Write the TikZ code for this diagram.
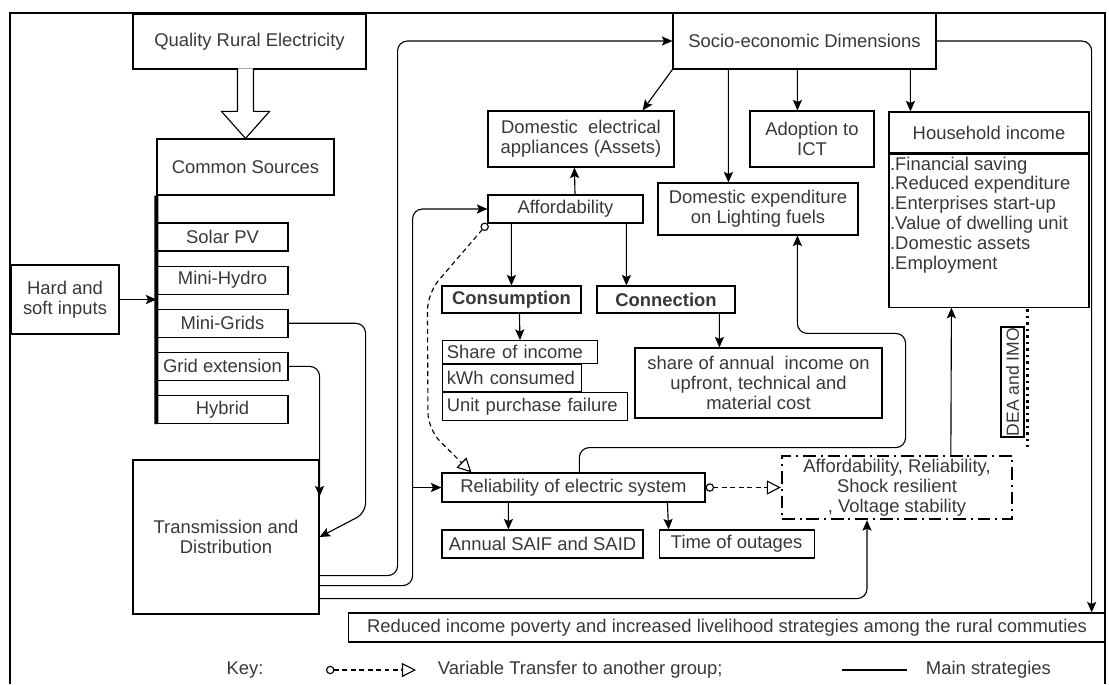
\documentclass[tikz,border=0pt]{standalone}
\usepackage{fontspec}
\setmainfont{Liberation Sans}
\usepackage{graphicx}
\usepackage{tikz}
\usetikzlibrary{arrows.meta,positioning,calc}
\newcommand\figfont{\fontsize{13.1pt}{14.2pt}\selectfont}

\begin{document}
\begin{tikzpicture}[
  x=0.025cm, y=-0.025cm,
  font=\figfont, text=black!78,
  box/.style={draw, line width=0.8pt, inner sep=1pt, align=center},
  src/.style={box, minimum width=3.275cm, minimum height=0.7cm},
  lst/.style={draw, line width=0.8pt, anchor=north west, align=left, inner xsep=3pt, inner ysep=1pt},
  qual/.style={draw, line width=1.6pt, dash pattern=on 9pt off 3.5pt on 1.4pt off 3.5pt, align=center, inner sep=1pt},
  arr/.style={-{Stealth[length=7.5pt, width=6.5pt, inset=1.5pt]}, line width=0.8pt},
  link/.style={arr, rounded corners=7pt},
  vt/.style={{Circle[open, length=6pt, width=6pt]}-{Triangle[open, length=10pt, width=10pt]}, dash pattern=on 3.5pt off 2.5pt, line width=0.8pt}]
  \useasboundingbox (0,0) rectangle (1109,684);
  \draw[line width=1.5pt] (10,684) |- (1105,13) -- (1105,684);

  \node[box, minimum width=5.825cm, minimum height=1.375cm] (qre) at (249.5,41.5) {Quality Rural Electricity};
  \node[box, minimum width=4.425cm, minimum height=1.4cm] (common) at (245.5,167) {Common Sources};
  \node[src] (solar) at (222.5,237) {Solar PV};
  \node[src, below=0.35cm of solar] (hydro) {Mini-Hydro};
  \node[src, below=0.35cm of hydro] (grids) {Mini-Grids};
  \node[src, below=0.35cm of grids] (gridext) {Grid extension};
  \node[src, below=0.35cm of gridext] (hybrid) {Hybrid};
  \node[box, minimum width=2.7cm, minimum height=1.725cm] (inputs) at (65,299.5) {Hard and\\soft inputs};
  \node[box, minimum width=4.65cm, minimum height=3.85cm] (trans) at (226,537) {Transmission and\\Distribution};

  \node[box, minimum width=6.575cm, minimum height=1.4cm] (socio) at (804.5,41) {Socio-economic Dimensions};
  \node[box, minimum width=4.65cm, minimum height=1.4cm] (appl) at (581,139) {Domestic~~electrical\\appliances (Assets)};
  \node[box, minimum width=3.1cm, minimum height=1.4cm] (ict) at (812,139) {Adoption to\\ICT};
  \node[box, minimum width=5cm, minimum height=1.025cm] (house) at (989,132.5) {Household income};
  \node[box, minimum width=5cm, minimum height=3.825cm, below=0pt of house] (housebody) {};
  \node[anchor=north west, align=left, inner xsep=1pt, inner ysep=2pt] (houselist) at (housebody.north west)
    {.Financial saving\\.Reduced expenditure\\.Enterprises start-up\\.Value of dwelling unit\\.Domestic assets\\.Employment};

  \node[box, minimum width=3.875cm, minimum height=0.7cm] (afford) at (565.5,209) {Affordability};
  \node[box, minimum width=5cm, minimum height=1.3cm] (expend) at (758,209) {Domestic expenditure\\on Lighting fuels};
  \node[box, font=\figfont\bfseries, minimum width=3.475cm, minimum height=0.675cm] (consum) at (511.5,299.5) {Consumption};
  \node[box, font=\figfont\bfseries, minimum width=3.45cm, minimum height=0.675cm] (connect) at (666,299.5) {Connection};
  \node[lst, text width=104.25pt, minimum height=0.575cm] (share) at (442,340) {Share of income};
  \node[lst, text width=92.87pt, minimum height=0.675cm, below right=0pt and 0pt of share.south west] (kwh) {\mbox{kWh consumed}};
  \node[lst, text width=125.6pt, minimum height=0.7cm, below right=0pt and 0pt of kwh.south west] (unit) {Unit purchase failure};
  \node[box, minimum width=6.175cm, minimum height=1.75cm] (annual) at (758.5,383) {share of annual~~income on\\upfront, technical and\\material cost};

  \node[box, minimum width=6.575cm, minimum height=0.725cm] (relia) at (573.5,487.5) {Reliability of electric system};
  \node[box, minimum width=5.025cm, minimum height=0.7cm] (saif) at (542.5,544) {Annual SAIF and SAID};
  \node[box, minimum width=3.875cm, minimum height=0.7cm, right=0.375cm of saif] (outage) {Time of outages};
  \node[qual, minimum width=5.75cm, minimum height=1.575cm] (quality) at (897,487.5) {Affordability, Reliability,\\Shock resilient\\, Voltage stability};
  \node[box, font=\fontsize{12.5pt}{14pt}\selectfont, minimum width=0.575cm, minimum height=2.75cm, inner sep=0pt] (dea) at (1012.5,382) {\rotatebox{90}{DEA and IMO}};
  \draw[line width=1.8pt, dash pattern=on 1.8pt off 2.8pt] ($(dea.north east)+(3,-17)$) -- ($(dea.south east)+(3,9)$);
  \node[box, minimum width=18.9cm, minimum height=0.725cm] (poverty) at (727,627.5) {Reduced income poverty and increased livelihood strategies among the rural commuties};

  \node (keyname) at (245,670) {Key:};
  \node[anchor=west] (keyvt) at (433,670) {Variable Transfer to another group;};
  \node[anchor=west] (keymain) at (921,670) {Main strategies};
  \coordinate (vta) at (326,670);
  \coordinate (vtb) at (416,670);
  \coordinate (maina) at (842,670);
  \coordinate (mainb) at (907,670);

  \draw[line width=0.8pt, fill=white] ($(common.north)+(-8,-70)$) -- ++(0,43) -- ++(-16,0) -- (common.north) -- ++(24,-27) -- ++(-16,0) -- ++(0,-43);
  \draw[line width=2.8pt] (common.south west) -- (hybrid.south west);
  \draw[arr] (inputs.east) -- (inputs.east -| common.south west);
  \draw[link] (grids.east) -| ($(trans.east)+(46,-24)$) -- (trans.east);
  \draw[link] (gridext.east) -| ($(trans.north east)+(0,37)$);
  \draw[link] ($(trans.south east)+(0,-39)$) -- ++(78,0) |- (socio.west);
  \draw[link] ($(trans.south east)+(0,-29)$) -- ++(93,0) coordinate (t2r) |- (afford.west);
  \draw[arr] (t2r |- relia.west) -- (relia.west);
  \draw[link] ($(trans.south east)+(0,-16)$) -| ($(quality.south)+(-30,0)$);
  \draw[link] (socio.east) -| ($(poverty.north east)+(-14,0)$);
  \draw[arr] (socio.south west) -- ($(appl.north east)+(-32,0)$);
  \draw[arr] ($(socio.south west)+(56,0)$) -- ($(expend.north west)+(71,0)$);
  \draw[arr] ($(socio.south west)+(125,0)$) -- ($(ict.north west)+(48,0)$);
  \draw[arr] ($(socio.south west)+(238,0)$) -- ($(house.north west)+(22,0)$);
  \draw[arr] ($(afford.north)+(9.5,0)$) -- ($(appl.south west)+(87,0)$);
  \draw[arr] ($(afford.south west)+(24,0)$) -- ($(consum.north west)+(70,0)$);
  \draw[arr] ($(afford.south west)+(139,0)$) -- ($(connect.north west)+(30,0)$);
  \draw[arr] ($(consum.south west)+(78,0)$) -- ($(share.north west)+(78,0)$);
  \draw[arr] ($(connect.south west)+(123,0)$) -- ($(annual.north west)+(85,0)$);
  \draw[arr] ($(relia.south west)+(67,0)$) -- ($(saif.north west)+(67,0)$);
  \draw[arr] ($(relia.south west)+(226,0)$) -- ($(outage.north west)+(10,0)$);
  \draw[link] ($(relia.north west)+(138,0)$) |- ($(annual.south east)+(23,29)$) -- ($(annual.north east)+(23,-14)$) -| ($(expend.south west)+(140,0)$);
  \draw[arr] ($(quality.north west)+(170,0)$) -- ($(housebody.south west)+(63,0)$);
  \draw[vt, rounded corners=12pt] (afford.south west) -- ($(consum.north west)+(-14,8)$) -- ($(unit.south west)+(-14,8)$) -- ($(relia.north west)+(30,0)$);
  \draw[vt] (relia.east) -- (quality.west);
  \draw[vt] (vta) -- (vtb);
  \draw[line width=0.8pt] (maina) -- (mainb);
\end{tikzpicture}
\end{document}
